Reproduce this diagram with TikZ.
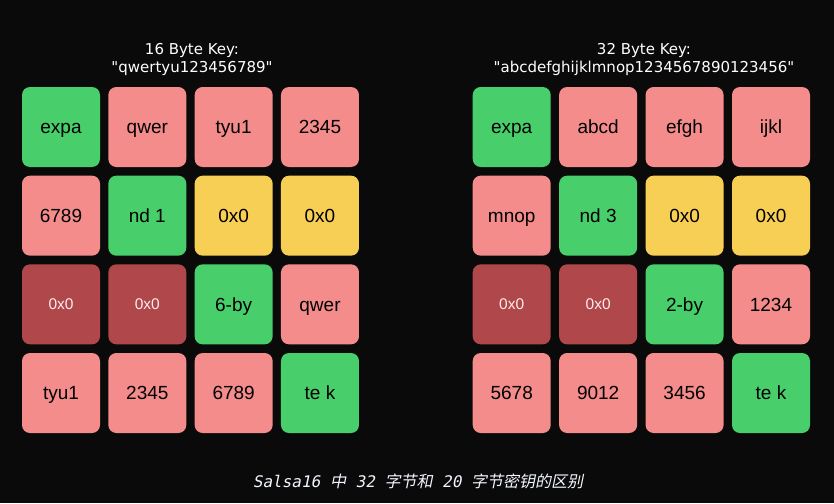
\documentclass[tikz,border=0pt]{standalone}
\usepackage{fontspec}
\setmainfont{Liberation Sans}
\newfontfamily\titlefont{DejaVu Sans}
\newfontfamily\capfont[FakeSlant=0.2]{DejaVu Sans Mono}
\newfontfamily\cjk[FakeSlant=0.2]{Noto Sans CJK SC}
\usepackage{xcolor}
\usepackage{tikz}
\usetikzlibrary{positioning}
\definecolor{bgblack}{HTML}{0A0A0A}
\definecolor{constgreen}{HTML}{48CF6B}
\definecolor{keypink}{HTML}{F48C8C}
\definecolor{nonceyellow}{HTML}{F8CF55}
\definecolor{ctrred}{HTML}{B0474A}
\definecolor{capwhite}{HTML}{F2F6FF}

\tikzset{
	cell/.style={rounded corners=8pt, minimum width=78pt, minimum height=80pt, inner sep=0pt,
		text=black, font=\fontsize{19}{19}\selectfont, text height=13.6pt, text depth=0pt},
	const/.style={cell, fill=constgreen},
	key/.style={cell, fill=keypink},
	nonce/.style={cell, fill=nonceyellow},
	ctr/.style={cell, fill=ctrred, text=white!92!red, font=\fontsize{15.5}{16}\selectfont,
		text height=11.1pt},
	keytitle/.style={text=white, align=center, font=\titlefont\fontsize{15}{18}\selectfont}
}

\begin{document}
\begin{tikzpicture}[x=1pt, y=-1pt]
	\fill[bgblack] (0,0) rectangle (834,503);
	\useasboundingbox (0,0) rectangle (834,503);
	% 16 byte key
	\node[keytitle] (title16) at (192,59) {16 Byte Key:\\"qwertyu123456789"};
	\foreach \txt/\sty [count=\i from 0] in {expa/const, qwer/key, tyu1/key, 2345/key,
		6789/key, nd 1/const, 0x0/nonce, 0x0/nonce,
		0x0/ctr, 0x0/ctr, 6-by/const, qwer/key,
		tyu1/key, 2345/key, 6789/key, te k/const}
	{
		\pgfmathsetmacro{\col}{int(mod(\i,4))}
		\pgfmathsetmacro{\row}{int(\i/4)}
		\node[\sty] (L\i) at (61+86.33*\col, 127+88.67*\row) {\txt};
	}
	% 32 byte key
	\node[keytitle] (title32) at (644,59) {32 Byte Key:\\"abcdefghijklmnop1234567890123456"};
	\foreach \txt/\sty [count=\i from 0] in {expa/const, abcd/key, efgh/key, ijkl/key,
		mnop/key, nd 3/const, 0x0/nonce, 0x0/nonce,
		0x0/ctr, 0x0/ctr, 2-by/const, 1234/key,
		5678/key, 9012/key, 3456/key, te k/const}
	{
		\pgfmathsetmacro{\col}{int(mod(\i,4))}
		\pgfmathsetmacro{\row}{int(\i/4)}
		\node[\sty] (R\i) at (511.7+86.43*\col, 127+88.67*\row) {\txt};
	}
	\node[text=capwhite, font=\fontsize{16}{16}\selectfont] (caption) at (418,481)
		{\capfont Salsa16 \cjk 中\capfont{} 32 \cjk 字节和\capfont{} 20 \cjk 字节密钥的区别};
\end{tikzpicture}
\end{document}
